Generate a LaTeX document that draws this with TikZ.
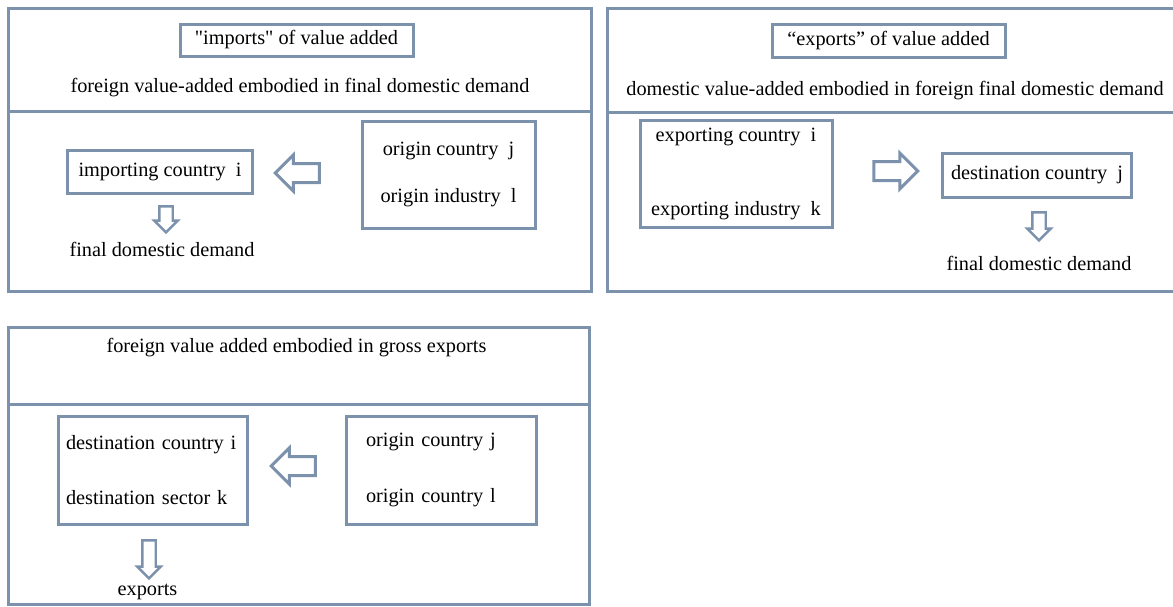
\documentclass[tikz,border=0pt]{standalone}
\usepackage{fontspec}
\setmainfont{Liberation Serif}
\usepackage{tikz}
\usetikzlibrary{shapes,arrows,positioning,calc}
\definecolor{framegray}{RGB}{124,145,171}
\newcommand{\strq}{{\addfontfeature{Ligatures=TeXOff}"}}

\begin{document}
\begin{tikzpicture}[x=1pt, y=-1pt,
    every node/.style={font=\fontsize{20.3}{24.4}\selectfont},
    frame/.style={draw=framegray, line width=3pt},
    box/.style={rectangle, draw=framegray, line width=3pt, align=center, inner sep=0pt},
    bigarrow/.style={single arrow, draw=framegray, fill=white, line width=3pt,
        inner sep=8pt, single arrow head extend=8.5pt, minimum height=44pt},
    smallarrow/.style={single arrow, draw=framegray, fill=white, line width=2.4pt,
        inner sep=5.5pt, single arrow head extend=5pt, shape border rotate=270}
]
    \useasboundingbox (0,0) rectangle (1173,606);

    \draw[frame] (8,8) rectangle (591,291);
    \draw[frame] (8,111) -- (591,111);
    \node[box, minimum width=233pt, minimum height=32pt] (impttl) at (296.5,40) {\strq imports\strq{} of value added};
    \node (impsub) at (300,88) {foreign value-added embodied in final domestic demand};
    \node[box, minimum width=185pt, minimum height=43pt] (impctry) at (160,171.5) {importing country\ \ i};
    \node[box, minimum width=173pt, minimum height=107pt] (origin) at (448.5,174.5) {origin country\ \ j\\[23pt]origin industry\ \ l};
    \node[bigarrow, shape border rotate=180] (imparrow) at (302,173) {};
    \node[smallarrow, minimum height=26pt] (impdown) at (166,216) {};
    \node (impfinal) at (162,249) {final domestic demand};

    \draw[frame] (607,8) rectangle (1185,291);
    \draw[frame] (607,112) -- (1185,112);
    \node[box, minimum width=233pt, minimum height=33pt] (expttl) at (888.5,40.5) {``exports'' of value added};
    \node (expsub) at (895,91) {domestic value-added embodied in foreign final domestic demand};
    \node[box, minimum width=192pt, minimum height=107pt] (expctry) at (736,174) {exporting country\ \ i\\[49pt]exporting industry\ \ k};
    \node[bigarrow] (exparrow) at (891,171) {};
    \node[box, minimum width=189pt, minimum height=44pt] (dest) at (1037,175) {destination country\ \ j};
    \node[smallarrow, minimum height=28pt] (expdown) at (1039,223) {};
    \node (expfinal) at (1039,263) {final domestic demand};

    \draw[frame] (8,327) rectangle (589,604);
    \draw[frame] (8,404) -- (589,404);
    \node (gvcttl) at (296.5,348) {foreign value added embodied in gross exports};
    \node[box, minimum width=189pt, minimum height=108pt, text width=174pt, align=left] (destbox) at (153,470) {destination country i\\[31pt]destination sector k};
    \node[box, minimum width=190pt, minimum height=108pt, text width=150pt, align=left] (origbox) at (441,470) {origin country j\\[31pt]origin country l};
    \node[bigarrow, shape border rotate=180] (gvcarrow) at (298,466) {};
    \node[smallarrow, minimum height=38pt] (gvcdown) at (149,556) {};
    \node (gvcexp) at (147.5,592) {exports};
\end{tikzpicture}
\end{document}
